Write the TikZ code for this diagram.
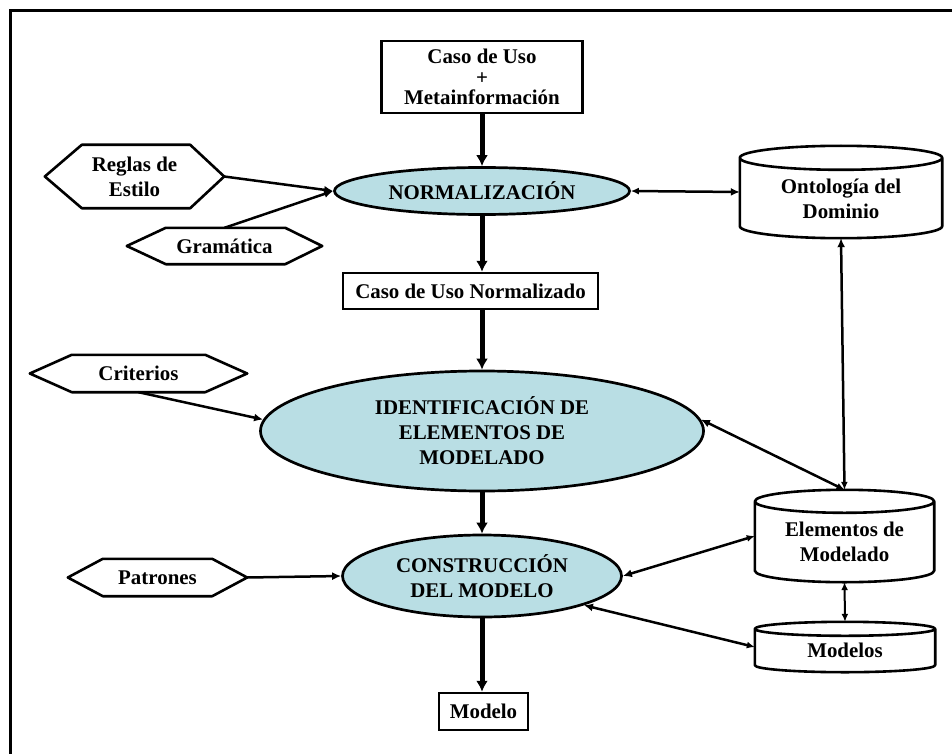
\documentclass[tikz,border=0pt]{standalone}
\usepackage{fontspec}
\setmainfont{Liberation Serif}
\usetikzlibrary{shapes.geometric,arrows.meta,calc}
\definecolor{ellfill}{RGB}{185,222,228}
\tikzset{
 lbl/.style={font=\fontsize{20.9}{25}\selectfont\bfseries, align=center},
 boxnode/.style={draw, line width=2.5pt, inner sep=0pt, lbl},
 ellnode/.style={ellipse, draw, line width=2.7pt, fill=ellfill, inner sep=0pt, lbl},
 hexbox/.style={inner sep=0pt, lbl},
 cylbox/.style={inner sep=0pt},
 cyltext/.style={inner sep=0pt, lbl},
 mainarrow/.style={line width=5pt, -{Latex[length=11pt,width=12pt]}},
 inarrow/.style={line width=2.5pt, -{Latex[length=9pt,width=8pt]}},
 biarrow/.style={line width=2.5pt, {Latex[length=8pt,width=7pt]}-{Latex[length=9pt,width=8pt]}},
 thinbiarrow/.style={line width=2pt, {Latex[length=8pt,width=7pt]}-{Latex[length=8pt,width=7pt]}},
 shapeline/.style={line width=2.6pt, line join=round},
 frameline/.style={line width=3pt},
}
\newcommand\hexagondraw[3]{%
 \draw[shapeline] (#1.west) -- ([xshift=#2]#1.north west) -- ([xshift=-#3]#1.north east) -- (#1.east) -- ([xshift=-#3]#1.south east) -- ([xshift=#2]#1.south west) -- cycle;}
\newcommand\cylinderdraw[2]{%
 \draw[shapeline] let \p1=(#1.north west), \p2=(#1.south east), \n1={(\x2-\x1)/2} in
  (\x1,\y1-#2) -- (\x1,\y2+#2) arc[start angle=180,end angle=360,x radius=\n1,y radius=#2] -- (\x2,\y1-#2) arc[start angle=0,end angle=360,x radius=\n1,y radius=#2];}
\begin{document}
\begin{tikzpicture}[x=1pt,y=-1pt]
\useasboundingbox (0,0) rectangle (952,754);
\fill[white] (0,0) rectangle (952,754);
\draw[frameline] (10,760) -- (10,11) -- (960,11);

% main column
\node[boxnode, minimum width=201pt, minimum height=72pt, font=\fontsize{20.9}{20.5}\selectfont\bfseries] (top) at (482,77) {Caso de Uso\\+\\Metainformación};
\node[ellnode, minimum width=295pt, minimum height=47pt] (norm) at (482,191) {NORMALIZACIÓN};
\node[boxnode, minimum width=255pt, minimum height=36pt] (cun) at (470.5,291) {Caso de Uso Normalizado};
\node[ellnode, minimum width=443pt, minimum height=120pt] (ident) at (482,431) {IDENTIFICACIÓN DE\\ELEMENTOS DE\\MODELADO};
\node[ellnode, minimum width=279pt, minimum height=82pt] (const) at (482,576) {CONSTRUCCIÓN\\DEL MODELO};
\node[boxnode, minimum width=89pt, minimum height=37pt] (modelo) at (483.5,711.5) {Modelo};

% hexagons
\node[hexbox, minimum width=179pt, minimum height=63pt] (reglas) at (134.5,176.5) {Reglas de\\Estilo};
\hexagondraw{reglas}{37pt}{34pt}
\node[hexbox, minimum width=195pt, minimum height=36pt] (gram) at (224.5,246) {Gramática};
\hexagondraw{gram}{39pt}{37pt}
\node[hexbox, minimum width=217pt, minimum height=37pt] (crit) at (138.5,373.5) {Criterios};
\hexagondraw{crit}{42pt}{42pt}
\node[hexbox, minimum width=179pt, minimum height=37pt] (patr) at (157.5,577.5) {Patrones};
\hexagondraw{patr}{35pt}{35pt}

% cylinders
\node[cylbox, minimum width=202pt, minimum height=92pt] (ont) at (841,192) {};
\cylinderdraw{ont}{12pt}
\node[cyltext] (ontT) at (841,199) {Ontología del\\Dominio};
\node[cylbox, minimum width=179pt, minimum height=92pt] (elem) at (844.5,536) {};
\cylinderdraw{elem}{11.5pt}
\node[cyltext] (elemT) at (844.5,542) {Elementos de\\Modelado};
\node[cylbox, minimum width=180pt, minimum height=50pt] (mod) at (845,647) {};
\cylinderdraw{mod}{7pt}
\node[cyltext] (modT) at (845,650) {Modelos};

% main flow
\draw[mainarrow] (top) -- (norm);
\draw[mainarrow] (norm) -- (norm |- cun.north);
\draw[mainarrow] (ident.north |- cun.south) -- (ident);
\draw[mainarrow] (ident) -- (const);
\draw[mainarrow] (const.south) -- (const.south |- modelo.north);

% inputs
\draw[inarrow] (reglas.east) -- (norm.west);
\draw[inarrow] (gram.north) -- (norm.west);
\draw[inarrow] (crit.south) -- (ident.177);
\draw[inarrow] (patr.east) -- (const.west);

% repositories
\draw[biarrow] (norm.east) -- (ont.west);
\draw[biarrow] (elem.north) -- (ont.south);
\draw[biarrow] (elem.north) -- (ident.3);
\draw[biarrow] (elem.west) -- (const.east);
\draw[biarrow] (mod.west) -- (const.-16);
\draw[thinbiarrow] (elem.south) -- (mod.north);
\end{tikzpicture}
\end{document}
